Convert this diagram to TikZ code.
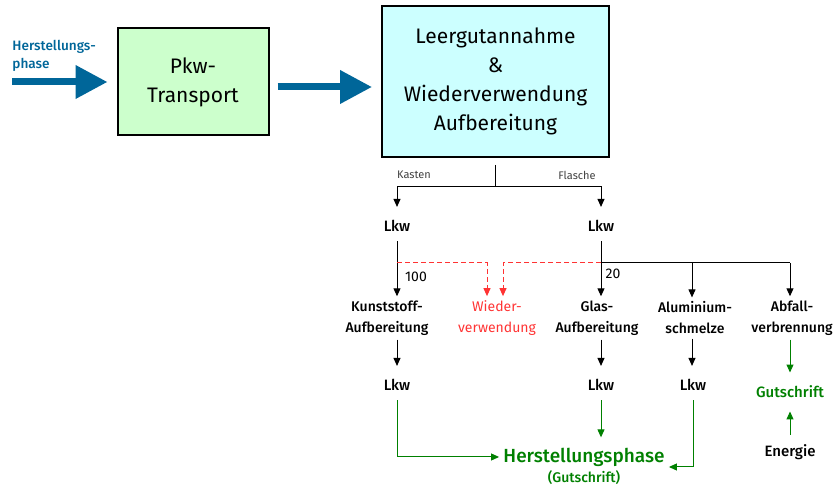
\documentclass[tikz,border=0pt]{standalone}
\usepackage{fontspec}
\setmainfont{Fira Sans}[BoldFont={Fira Sans Medium}]
\usepackage{xcolor}
\usetikzlibrary{positioning,calc,arrows.meta}
\definecolor{arrowblue}{RGB}{0,102,153}
\definecolor{boxgreen}{RGB}{204,255,204}
\definecolor{boxcyan}{RGB}{204,255,255}
\definecolor{creditgreen}{RGB}{0,128,0}
\definecolor{reusered}{RGB}{255,51,51}

\begin{document}
\begin{tikzpicture}[x=0.5pt,y=-0.5pt,
    box/.style={draw,line width=1pt,align=center,font=\fontsize{10.5}{14.5}\selectfont},
    bigarrow/.style={line width=3.5pt,arrowblue,-{Triangle[length=16pt,width=16pt]}},
    flow/.style={line width=0.5pt,-{Triangle[length=4pt,width=3.5pt]}},
    reuse/.style={flow,reusered,dash pattern=on 2.5pt off 1.5pt},
    credit/.style={flow,creditgreen},
    lbl/.style={align=center,inner sep=2pt,font=\fontsize{7}{10.5}\selectfont\bfseries},
    lkw/.style={inner xsep=2pt,inner ysep=4.5pt,font=\fontsize{7.5}{9}\selectfont\bfseries},
    tag/.style={text=black!75,font=\fontsize{5.5}{6.5}\selectfont},
    num/.style={font=\fontsize{7}{8}\selectfont}]
    \useasboundingbox (0,0) rectangle (836,490);
    % top row
    \node[box,fill=boxgreen,minimum width=75.5pt,minimum height=53.5pt] (pkw) at (193,82) {Pkw-\\Transport};
    \node[box,fill=boxcyan,minimum width=113.5pt,minimum height=75.5pt] (leer) at (495.5,81.5) {Leergutannahme\\\&\\Wiederverwendung\\Aufbereitung};
    \node[anchor=west,align=left,inner sep=0pt,text=arrowblue,font=\fontsize{6.8}{9}\selectfont\bfseries] (herin) at (12,56) {Herstellungs-\\phase};
    \coordinate (inflow) at (12,82);
    \draw[bigarrow,shorten >=4.5pt] (inflow) -- (pkw.west);
    \draw[bigarrow,shorten <=4pt,shorten >=4.5pt] ([yshift=-2.5pt]pkw.east) -- ([yshift=-2.5pt]pkw.east -| leer.west);
    % split into Kasten and Flasche
    \coordinate (split) at (495.5,187);
    \node[tag] (kasten) at (414,175) {Kasten};
    \node[tag] (flasche) at (577,175) {Flasche};
    \node[lkw] (lkwK) at (397,226) {Lkw};
    \node[lkw] (lkwF) at (601,226) {Lkw};
    \draw[line width=0.5pt,shorten <=3.5pt] (leer.south) -- (split);
    \draw[flow,shorten >=2pt] (split) -| (lkwK);
    \draw[flow,shorten >=2pt] (split) -| (lkwF);
    % treatment
    \node[lbl] (kunst) at (387,318) {Kunststoff-\\Aufbereitung};
    \node[lbl,text=reusered,font=\fontsize{7}{10.5}\selectfont] (wieder) at (497,318) {Wieder-\\verwendung};
    \node[lbl] (glas) at (597,318) {Glas-\\Aufbereitung};
    \node[lbl] (alu) at (695,318) {Aluminium-\\schmelze};
    \node[lbl] (abfall) at (792,318) {Abfall-\\verbrennung};
    \coordinate (forkK) at (397,263);
    \coordinate (forkF) at (601,263);
    \draw[flow] (lkwK) -- (lkwK |- kunst.north);
    \draw[flow] (lkwF) -- (lkwF |- glas.north);
    \draw[line width=0.5pt] (forkF) -- ([xshift=-1pt]forkF -| abfall);
    \draw[flow] ([xshift=-1.5pt]forkF -| alu) -- ([xshift=-1.5pt]alu.north);
    \draw[flow] ([xshift=-1pt]forkF -| abfall) -- ([xshift=-1pt]abfall.north);
    \draw[reuse] (forkK) -| ([xshift=-5pt]wieder.north);
    \draw[reuse] (forkF) -| ([xshift=3pt]wieder.north);
    \node[num] (hundert) at (416,277) {100};
    \node[num] (zwanzig) at (613,274) {20};
    % transport back
    \node[lkw] (lkwK2) at (397,385) {Lkw};
    \node[lkw] (lkwF2) at (601,385) {Lkw};
    \node[lkw] (lkwA2) at (693,385) {Lkw};
    \draw[flow,shorten >=2pt] (lkwK2 |- kunst.south) -- (lkwK2);
    \draw[flow,shorten >=2pt] (lkwF2 |- glas.south) -- (lkwF2);
    \draw[flow,shorten >=2pt] ([xshift=-0.5pt]lkwA2 |- alu.south) -- ([xshift=-0.5pt]lkwA2.north);
    \node[lkw,text=creditgreen] (gut) at (790,392) {Gutschrift};
    \node[lkw] (energie) at (790,452) {Energie};
    \draw[credit,shorten >=2pt] (gut |- abfall.south) -- (gut);
    \draw[credit,shorten >=2pt] (energie) -- (gut);
    % credit
    \node[inner sep=2pt,text=creditgreen,font=\fontsize{9.5}{11}\selectfont\bfseries] (hp) at (584,457) {Herstellungsphase};
    \node[inner sep=1pt,text=creditgreen,font=\fontsize{7}{8}\selectfont\bfseries] (hpsub) at (584,478) {(Gutschrift)};
    \draw[credit] (lkwK2) |- (hp.west);
    \draw[credit,shorten >=3pt] (lkwF2) -- (lkwF2 |- hp.north);
    \draw[credit] (lkwA2) |- ([yshift=-5pt]hp.east);
\end{tikzpicture}
\end{document}
